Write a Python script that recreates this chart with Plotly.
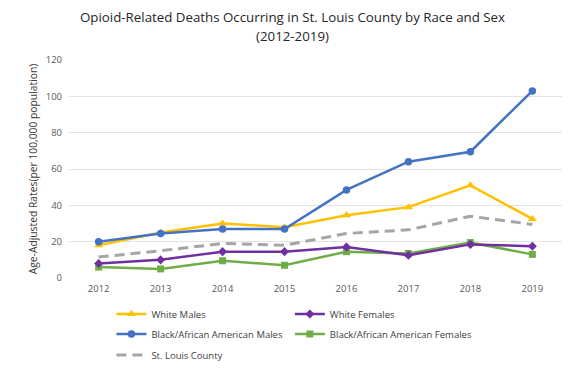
import plotly.graph_objects as go

years = ["2012", "2013", "2014", "2015", "2016", "2017", "2018", "2019"]
white_males = [18, 25, 30, 28, 34.5, 39, 51, 32.5]
white_females = [8, 10, 14.5, 14.5, 17, 12.5, 18.5, 17.5]
black_males = [20, 24.5, 27, 27, 48.5, 64, 69.5, 103]
black_females = [6, 5, 9.5, 7, 14.5, 13.5, 19.5, 13]
st_louis = [11.5, 15, 19, 18, 24.5, 26.5, 34, 29.5]

title_line1 = "Opioid-Related Deaths Occurring in St. Louis County by Race and Sex"
title_line2 = "(2012-2019)"

# The page body has an 8px default margin, so the figure is 8px smaller than the window.
W, H = 576, 360

fig = go.Figure()
fig.add_trace(go.Scatter(x=years, y=st_louis, name="St. Louis County", mode="lines",
                         line=dict(color="#A5A5A5", width=3, dash="10px,6px"), legend="legend5"))
fig.add_trace(go.Scatter(x=years, y=black_females, name="Black/African American Females", mode="lines+markers",
                         line=dict(color="#70AD47", width=2.5), marker=dict(symbol="square", size=7),
                         legend="legend4"))
fig.add_trace(go.Scatter(x=years, y=white_females, name="White Females", mode="lines+markers",
                         line=dict(color="#7030A0", width=2.5), marker=dict(symbol="diamond", size=7),
                         legend="legend2"))
fig.add_trace(go.Scatter(x=years, y=white_males, name="White Males", mode="lines+markers",
                         line=dict(color="#FFC000", width=2.5), marker=dict(symbol="triangle-up", size=8),
                         legend="legend"))
fig.add_trace(go.Scatter(x=years, y=black_males, name="Black/African American Males", mode="lines+markers",
                         line=dict(color="#4472C4", width=2.5), marker=dict(symbol="circle", size=7.5),
                         legend="legend3"))

title_font = dict(family="Open Sans, Liberation Sans, sans-serif", size=13.3, color="#262626")
fig.add_annotation(text=title_line1, xref="paper", yref="paper", x=0.454, y=1.195,
                   xanchor="center", yanchor="middle", showarrow=False, font=title_font)
fig.add_annotation(text=title_line2, xref="paper", yref="paper", x=0.454, y=1.112,
                   xanchor="center", yanchor="middle", showarrow=False, font=title_font)

leg_common = dict(orientation="h", xanchor="left", yref="container", yanchor="middle",
                  font=dict(size=9.5, color="#404040"), itemwidth=30, bgcolor="rgba(0,0,0,0)")
col1, col2 = 0.086, 0.448
row1, row2, row3 = 1 - 306 / H, 1 - 326 / H, 1 - 347 / H

fig.update_layout(
    width=W, height=H,
    margin=dict(l=61, r=22, t=52, b=90),
    paper_bgcolor="white", plot_bgcolor="white",
    font=dict(family="Open Sans, Liberation Sans, sans-serif", color="#404040", size=10),
    showlegend=True,
    legend=dict(x=col1, y=row1, **leg_common),
    legend2=dict(x=col2, y=row1, **leg_common),
    legend3=dict(x=col1, y=row2, **leg_common),
    legend4=dict(x=col2, y=row2, **leg_common),
    legend5=dict(x=col1, y=row3, **leg_common),
    xaxis=dict(type="category", showgrid=False, showline=False, ticks="", automargin=False,
               ticklabelstandoff=3, tickfont=dict(size=9.5, color="#595959")),
    yaxis=dict(range=[0, 120], dtick=20, showgrid=True, gridcolor="#E3E3E3", gridwidth=1,
               zeroline=False, showline=False, tickfont=dict(size=9.5, color="#595959"),
               automargin=False, ticklabelstandoff=6,
               title=dict(text="Age-Adjusted Rates(per 100,000 population)", font=dict(size=10.3, color="#404040"),
                          standoff=6)),
)
fig.write_html("out.html")
